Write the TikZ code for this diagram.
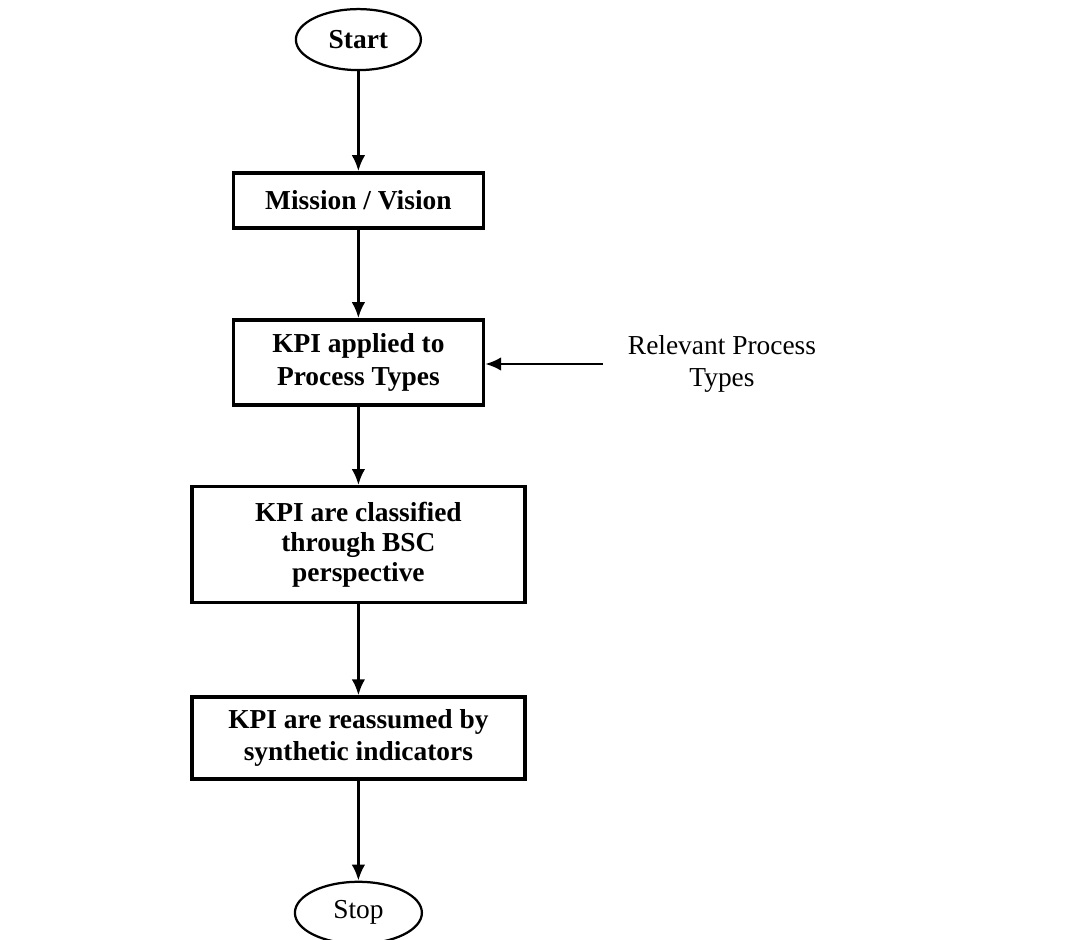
\documentclass[tikz,border=0pt]{standalone}
\usepackage{fontspec}
\setmainfont{Liberation Serif}
\usepackage{tikz}
\usetikzlibrary{positioning}
\usetikzlibrary{shapes}
\usetikzlibrary{arrows.meta}
\tikzset{>={Latex[length=0.4cm,width=0.34cm]}}

\begin{document}
\begin{tikzpicture}[
            box/.style={draw, line width=2.4pt, align=center, font=\fontsize{19.5}{23}\selectfont\bfseries},
            term/.style={draw, ellipse, line width=1.6pt, inner sep=0pt, font=\fontsize{19.5}{23}\selectfont},
            flow/.style={->, line width=2pt}
        ]
        \useasboundingbox (0, 0) rectangle (26.675, -23.5);
        \node[term, minimum width=3.125cm, minimum height=1.525cm] (start) at (8.96, -0.99) {\bfseries Start};
        \node[box, minimum width=6.25cm, minimum height=1.375cm] (mission) at (8.96, -5.01) {Mission / Vision};
        \node[box, minimum width=6.25cm, minimum height=2.125cm] (applied) at (8.96, -9.06) {KPI applied to\\Process Types};
        \node[box, minimum width=8.325cm, minimum height=2.9cm, font=\fontsize{19.5}{21.5}\selectfont\bfseries] (classified) at (8.96, -13.62) {KPI are classified\\through BSC\\perspective};
        \node[box, minimum width=8.325cm, minimum height=2.05cm] (reassumed) at (8.96, -18.45) {KPI are reassumed by\\synthetic indicators};
        \node[term, minimum width=3.175cm, minimum height=1.55cm] (stop) at (8.96, -22.82) {Stop};
        % input from the side
        \node[align=center, inner xsep=0.62cm, font=\fontsize{19.5}{23}\selectfont] (relevant) at (18.05, -9.1) {Relevant Process\\Types};
        \draw[flow] (start) -- (mission);
        \draw[flow] (mission) -- (applied);
        \draw[flow] (applied) -- (classified);
        \draw[flow] (classified) -- (reassumed);
        \draw[flow] (reassumed) -- (stop);
        \draw[flow] (relevant.west) -- (relevant.west -| applied.east);
\end{tikzpicture}
\end{document}
